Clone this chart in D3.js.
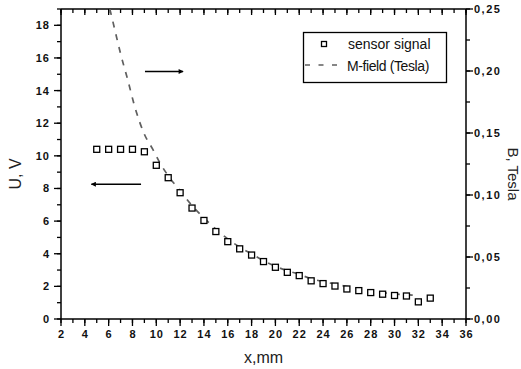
<!DOCTYPE html>
<html>
<head>
<meta charset="utf-8">
<script src="https://cdn.jsdelivr.net/npm/d3@7"></script>
<style>
  html, body { margin: 0; padding: 0; background: #fff; }
  svg { display: block; font-family: "Liberation Sans", Arial, sans-serif; }
</style>
</head>
<body>
<svg id="chart" width="521" height="369"></svg>
<script>
// ---- data ----
const sensorX = [5,6,7,8,9,10,11,12,13,14,15,16,17,18,19,20,21,22,23,24,25,26,27,28,29,30,31,32,33];
const sensorU = [10.4,10.4,10.4,10.4,10.25,9.42,8.66,7.74,6.8,6.04,5.36,4.74,4.3,3.92,3.52,3.17,2.86,2.66,2.34,2.17,2.02,1.84,1.74,1.62,1.52,1.44,1.41,1.05,1.28];

const fieldX = [6.1,6.4,7.0,7.6,8.2,9.0,9.7,10.3,11,12,13,14,15,16,17,18,19,20,21,22,23,24,25,26,27,28,29,30,31,32];
const fieldB = [0.25,0.238,0.214,0.193,0.171,0.149,0.137,0.126,0.1155,0.1035,0.0915,0.0815,0.0725,0.0645,0.058,0.0525,0.047,0.0425,0.039,0.036,0.0325,0.0302,0.0282,0.0262,0.0242,0.0226,0.0212,0.0202,0.0196,0.019];

const xTicks = [2,4,6,8,10,12,14,16,18,20,22,24,26,28,30,32,34,36];
const yLeftTicks = [0,2,4,6,8,10,12,14,16,18];
const yRightTicks = [0,0.05,0.10,0.15,0.20,0.25];

const legendLabels = ["sensor signal", "M-field (Tesla)"];
const axisTitles = { x: "x,mm", yLeft: "U, V", yRight: "B, Tesla" };

// arrows in data units: [x1, x2, U]
const arrowRight = [9.05, 12.25, 15.17];
const arrowLeft = [8.72, 4.55, 8.26];

// ---- layout ----
const L = 61, R = 466, T = 9, B = 319;
const svg = d3.select("#chart");

const x = d3.scaleLinear().domain([2, 36]).range([L, R]);
const yL = d3.scaleLinear().domain([0, 19]).range([B, T]);
const yR = d3.scaleLinear().domain([0, 0.25]).range([B, T]);

const tickFont = "bold 11px 'Liberation Sans', Arial, sans-serif";

// minor ticks
const xMinor = d3.range(2, 36.01, 1);
const yMinor = d3.range(0, 19.01, 1);
const yRMinor = d3.range(0, 0.2501, 0.025);

// bottom axis
const gB = svg.append("g").attr("transform", `translate(0,${B})`);
gB.append("line").attr("x1", L).attr("x2", R).attr("stroke", "#000").attr("stroke-width", 1.5);
gB.selectAll("line.minor").data(xMinor).enter().append("line")
  .attr("x1", d => x(d)).attr("x2", d => x(d)).attr("y1", 0).attr("y2", 4)
  .attr("stroke", "#000").attr("stroke-width", 1.3);
gB.selectAll("line.major").data(xTicks).enter().append("line")
  .attr("x1", d => x(d)).attr("x2", d => x(d)).attr("y1", 0).attr("y2", 7)
  .attr("stroke", "#000").attr("stroke-width", 1.3);
gB.selectAll("text").data(xTicks).enter().append("text")
  .attr("x", d => x(d) + 0.5).attr("y", 19).attr("text-anchor", "middle")
  .style("font", tickFont).style("letter-spacing", "1px").attr("fill", "#111").text(d => d);

// top axis (inward ticks)
const gT = svg.append("g").attr("transform", `translate(0,${T})`);
gT.append("line").attr("x1", L).attr("x2", R).attr("stroke", "#000").attr("stroke-width", 1.5);
gT.selectAll("line.minor").data(xMinor).enter().append("line")
  .attr("x1", d => x(d)).attr("x2", d => x(d)).attr("y1", 0).attr("y2", 4)
  .attr("stroke", "#000").attr("stroke-width", 1.3);
gT.selectAll("line.major").data(xTicks).enter().append("line")
  .attr("x1", d => x(d)).attr("x2", d => x(d)).attr("y1", 0).attr("y2", 6)
  .attr("stroke", "#000").attr("stroke-width", 1.3);

// left axis
const gL = svg.append("g").attr("transform", `translate(${L},0)`);
gL.append("line").attr("y1", T).attr("y2", B).attr("stroke", "#000").attr("stroke-width", 1.5);
gL.selectAll("line.minor").data(yMinor).enter().append("line")
  .attr("y1", d => yL(d)).attr("y2", d => yL(d)).attr("x1", 0).attr("x2", -4)
  .attr("stroke", "#000").attr("stroke-width", 1.3);
gL.selectAll("line.major").data(yLeftTicks).enter().append("line")
  .attr("y1", d => yL(d)).attr("y2", d => yL(d)).attr("x1", 0).attr("x2", -7)
  .attr("stroke", "#000").attr("stroke-width", 1.3);
gL.selectAll("text").data(yLeftTicks).enter().append("text")
  .attr("x", -11).attr("y", d => yL(d) + 4).attr("text-anchor", "end")
  .style("font", tickFont).style("letter-spacing", "1px").attr("fill", "#111").text(d => d);

// right axis
const gR = svg.append("g").attr("transform", `translate(${R},0)`);
gR.append("line").attr("y1", T).attr("y2", B).attr("stroke", "#000").attr("stroke-width", 1.5);
gR.selectAll("line.minor").data(yRMinor).enter().append("line")
  .attr("y1", d => yR(d)).attr("y2", d => yR(d)).attr("x1", 0).attr("x2", 4)
  .attr("stroke", "#000").attr("stroke-width", 1.3);
gR.selectAll("line.major").data(yRightTicks).enter().append("line")
  .attr("y1", d => yR(d)).attr("y2", d => yR(d)).attr("x1", 0).attr("x2", 7)
  .attr("stroke", "#000").attr("stroke-width", 1.3);
gR.selectAll("text").data(yRightTicks).enter().append("text")
  .attr("x", 8).attr("y", d => yR(d) + 4).attr("text-anchor", "start")
  .style("font", tickFont).style("letter-spacing", "1.5px").attr("fill", "#111")
  .text(d => d3.format(".2f")(d).replace(".", ","));

// axis titles
svg.append("text").attr("x", x(19)).attr("y", 363).attr("text-anchor", "middle")
  .attr("font-size", 16).attr("fill", "#222").text(axisTitles.x);
svg.append("text").attr("transform", `translate(21,${(T + B) / 2 + 10}) rotate(-90)`)
  .attr("text-anchor", "middle").attr("font-size", 16).attr("fill", "#222").text(axisTitles.yLeft);
svg.append("text").attr("transform", `translate(508,${(T + B) / 2 + 10}) rotate(90)`)
  .attr("text-anchor", "middle").attr("font-size", 15).attr("fill", "#222").text(axisTitles.yRight);

// clip
svg.append("clipPath").attr("id", "clip").append("rect")
  .attr("x", L).attr("y", T).attr("width", R - L).attr("height", B - T);

// field line
const fieldData = fieldX.map((d, i) => [d, fieldB[i]]);
svg.append("path").datum(fieldData).attr("clip-path", "url(#clip)")
  .attr("d", d3.line().x(d => x(d[0])).y(d => yR(d[1])).curve(d3.curveMonotoneX))
  .attr("fill", "none").attr("stroke", "#5f5f5f").attr("stroke-width", 1.7)
  .attr("stroke-dasharray", "6,7");

// sensor squares
const sensorData = sensorX.map((d, i) => [d, sensorU[i]]);
svg.append("g").selectAll("rect").data(sensorData).enter().append("rect")
  .attr("x", d => x(d[0]) - 3).attr("y", d => yL(d[1]) - 3)
  .attr("width", 6).attr("height", 6)
  .attr("fill", "#fff").attr("stroke", "#000").attr("stroke-width", 1.3);

// arrows
const defs = svg.append("defs");
defs.append("marker").attr("id", "ah").attr("viewBox", "0 0 10 10")
  .attr("refX", 9).attr("refY", 5).attr("markerWidth", 7).attr("markerHeight", 5)
  .attr("markerUnits", "userSpaceOnUse").attr("orient", "auto")
  .append("path").attr("d", "M0,0 L10,5 L0,10 Z").attr("fill", "#000");
[arrowRight, arrowLeft].forEach(a => {
  svg.append("line")
    .attr("x1", x(a[0])).attr("x2", x(a[1])).attr("y1", yL(a[2])).attr("y2", yL(a[2]))
    .attr("stroke", "#000").attr("stroke-width", 1.3).attr("marker-end", "url(#ah)");
});

// legend
const lg = svg.append("g");
lg.append("rect").attr("x", 303.5).attr("y", 32.5).attr("width", 143).attr("height", 50)
  .attr("fill", "#fff").attr("stroke", "#000").attr("stroke-width", 1.3);
lg.append("rect").attr("x", 321.5).attr("y", 41.5).attr("width", 5).attr("height", 5)
  .attr("fill", "#fff").attr("stroke", "#000").attr("stroke-width", 1.3);
lg.append("line").attr("x1", 305).attr("x2", 344).attr("y1", 65).attr("y2", 65)
  .attr("stroke", "#5f5f5f").attr("stroke-width", 1.5).attr("stroke-dasharray", "5,8.5");
lg.append("text").attr("x", 348).attr("y", 49).attr("font-size", 14).attr("fill", "#111").text(legendLabels[0]);
lg.append("text").attr("x", 347).attr("y", 71).attr("font-size", 14).attr("letter-spacing", -0.4).attr("fill", "#111").text(legendLabels[1]);
</script>
</body>
</html>
